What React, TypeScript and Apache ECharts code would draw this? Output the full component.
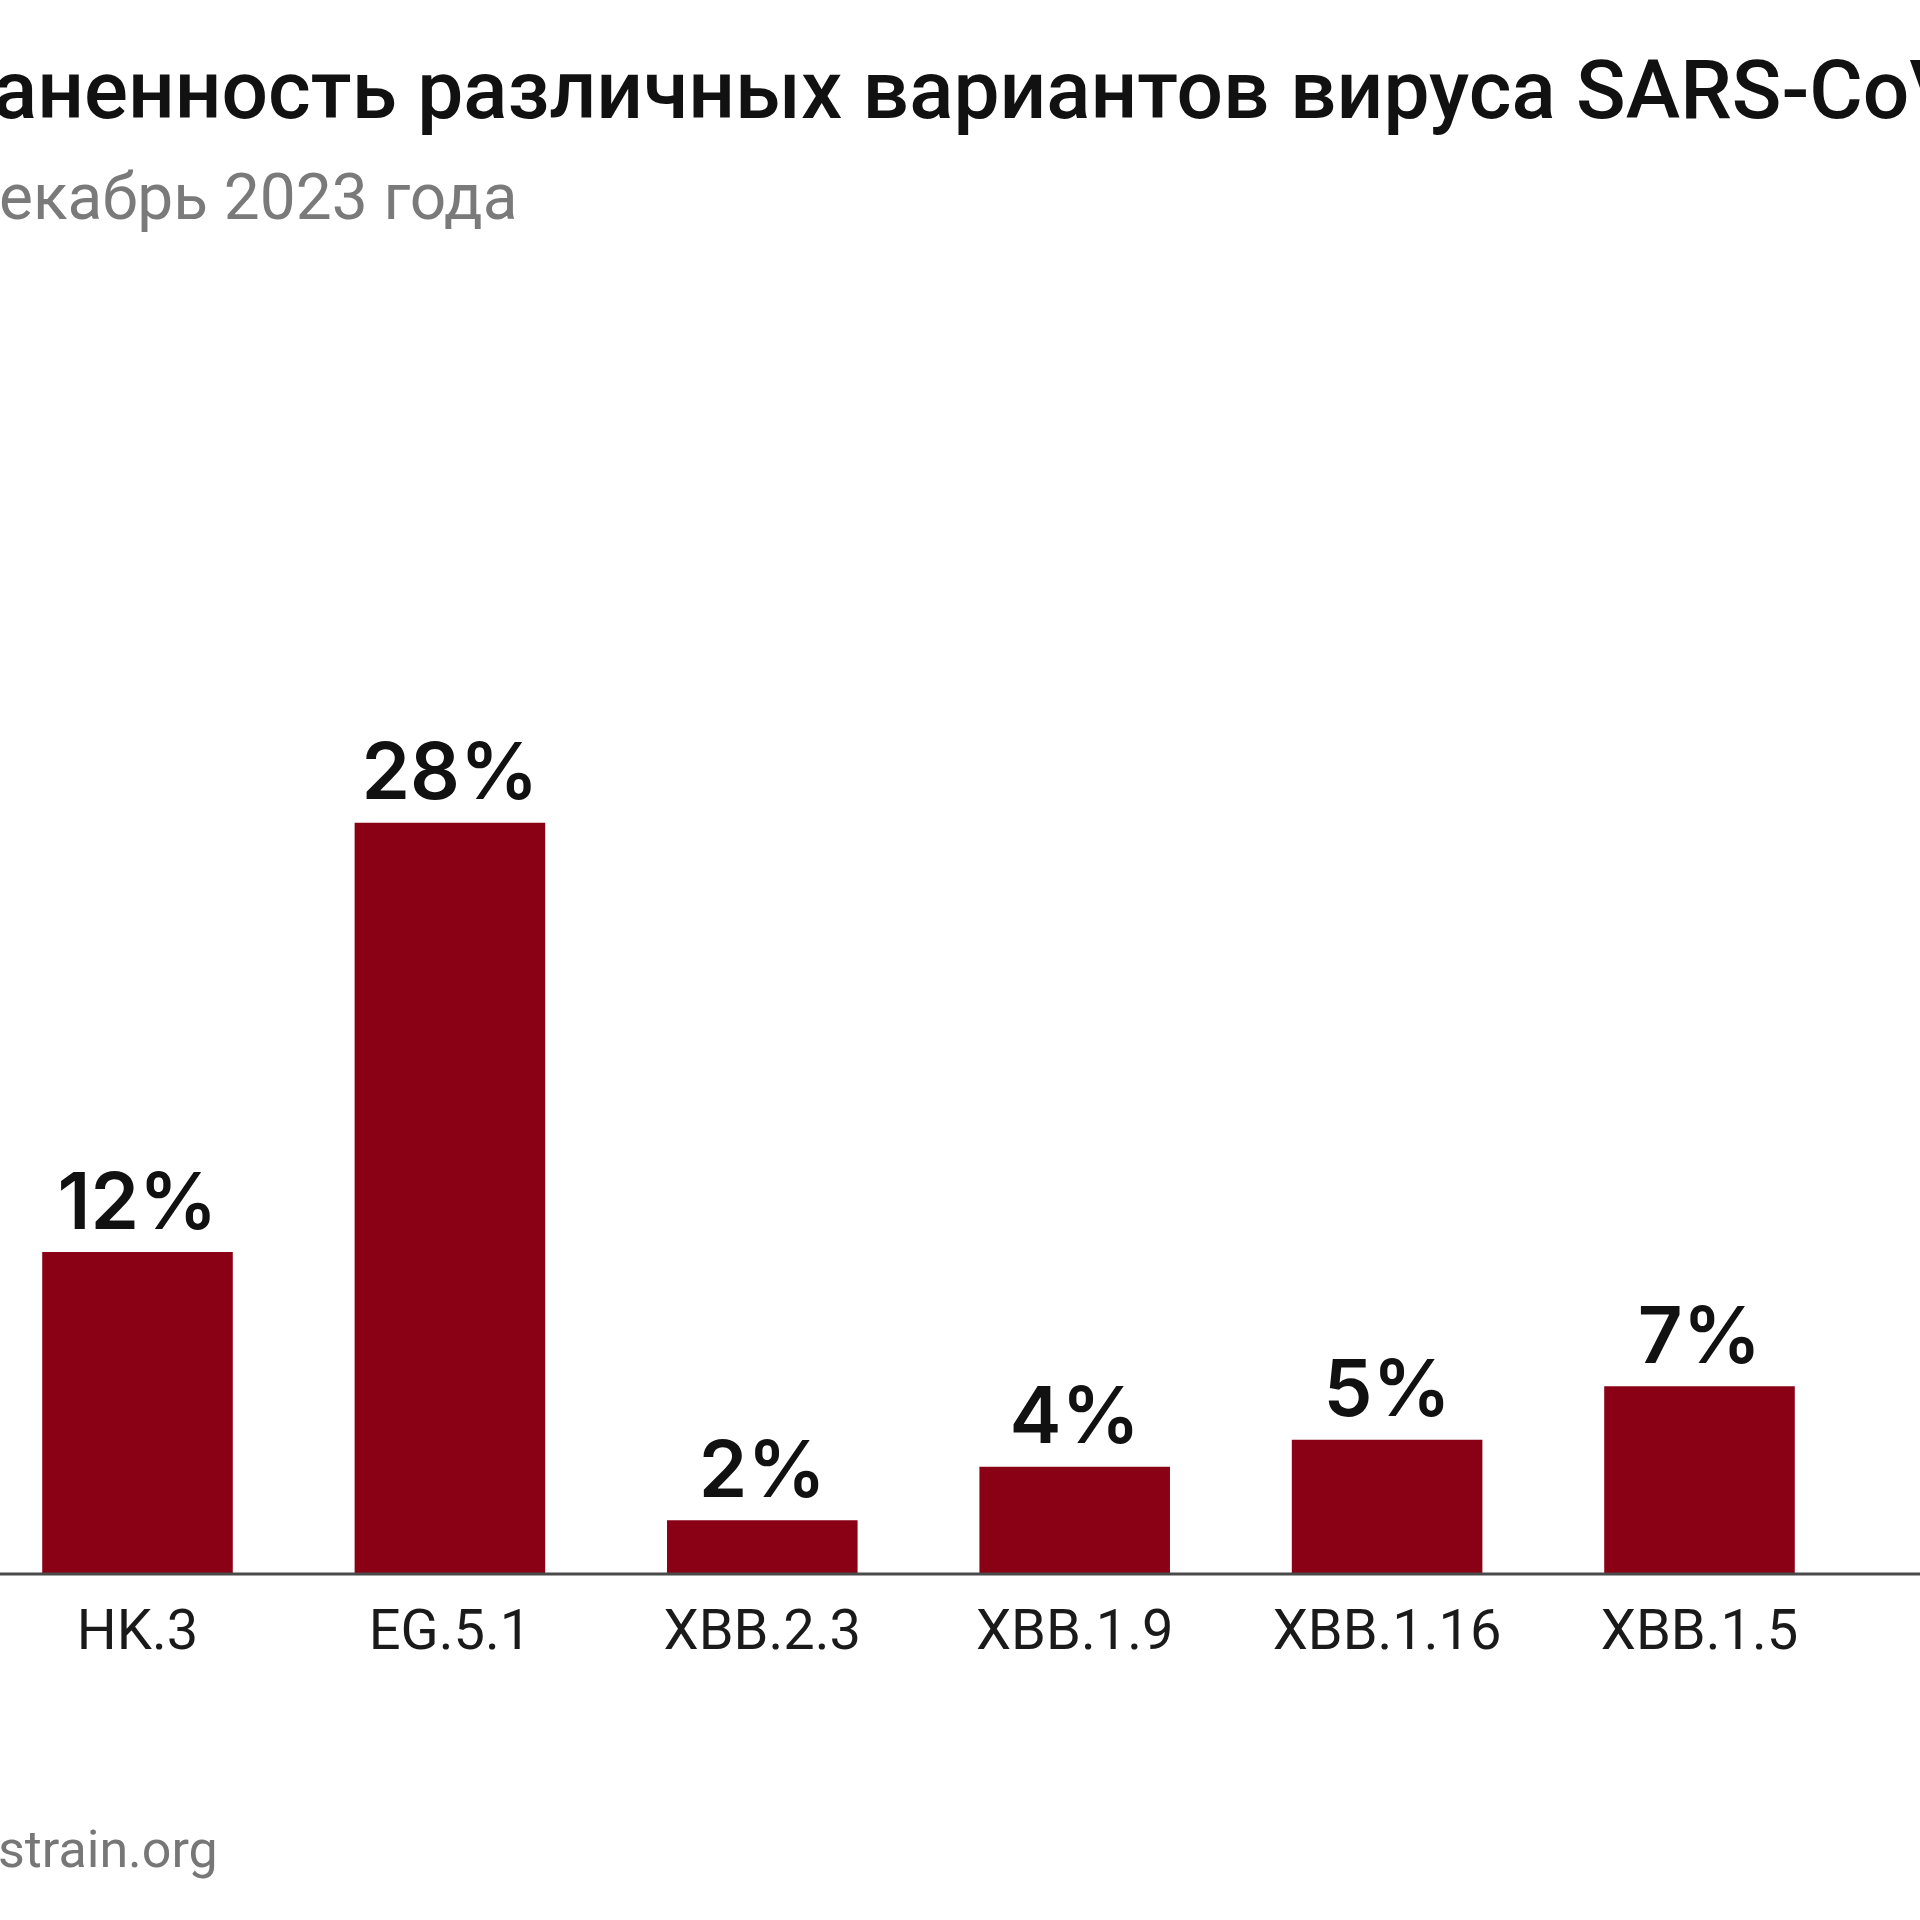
import React, { useEffect, useRef } from "react";
import * as echarts from "echarts";

const categories = ["HK.3", "EG.5.1", "XBB.2.3", "XBB.1.9", "XBB.1.16", "XBB.1.5"];
const shares = [12, 28, 2, 4, 5, 7];
const titleText = "Распространенность различных вариантов вируса SARS-CoV-2";
const titleHidden = "Распростр";
const subtitleText = "Декабрь 2023 года";
const subtitleHidden = "Д";
const sourceText = "Источник: nextstrain.org";
const sourceHidden = "Источник: next";

const FONT = "Roboto, 'Noto Sans', sans-serif";
const OFF = 60;

function measure(text: string, font: string): number {
  const c = document.createElement("canvas");
  const ctx = c.getContext("2d");
  if (!ctx) return 0;
  ctx.font = font;
  return ctx.measureText(text).width;
}

export default function App() {
  const ref = useRef<HTMLDivElement>(null);
  useEffect(() => {
    if (!ref.current) return;
    const chart = echarts.init(ref.current, null, { renderer: "svg" });
    const titleX = OFF + 13 - 20 - measure(titleHidden, `500 82px Roboto`);
    const subX = OFF - 1 - measure(subtitleHidden, `400 64px Roboto`);
    const srcX = OFF - 2 - measure(sourceHidden, `400 52px Roboto`);
    chart.setOption({
      animation: false,
      backgroundColor: "#ffffff",
      grid: { left: OFF - 18.7, width: 1874.4, top: 769, bottom: 346, containLabel: false },
      xAxis: {
        type: "category",
        data: categories,
        axisLine: { show: false },
        axisTick: { show: false },
        axisLabel: { fontSize: 56, color: "#1a1a1a", fontFamily: FONT, margin: 28, interval: 0 },
      },
      yAxis: { type: "value", min: 0, max: 30, show: false, splitLine: { show: false } },
      series: [
        {
          type: "bar",
          data: shares,
          barCategoryGap: "39%",
          itemStyle: { color: "#8a0015" },
          label: {
            show: true,
            position: "top",
            distance: 13,
            formatter: "{c}%",
            fontSize: 78,
            fontWeight: 600,
            color: "#111111",
            fontFamily: "Inter, Roboto, sans-serif",
          },
        },
      ],
    });
    const y0 = chart.convertToPixel({ yAxisIndex: 0 }, 0) as number;
    chart.setOption({
      graphic: [
        {
          type: "text",
          x: titleX,
          y: 90,
          style: {
            text: titleText,
            fontSize: 82,
            fontWeight: 500,
            fontFamily: FONT,
            fill: "#111111",
            verticalAlign: "middle",
            align: "left",
          },
        },
        {
          type: "text",
          x: subX,
          y: 197,
          style: {
            text: subtitleText,
            fontSize: 64,
            fontFamily: FONT,
            fill: "#7a7a7a",
            verticalAlign: "middle",
            align: "left",
          },
        },
        {
          type: "text",
          x: srcX,
          y: 1849,
          style: {
            text: sourceText,
            fontSize: 52,
            fontFamily: FONT,
            fill: "#777777",
            verticalAlign: "middle",
            align: "left",
          },
        },
        {
          type: "line",
          shape: { x1: 0, y1: y0, x2: 1920 + 2 * OFF, y2: y0 },
          style: { stroke: "#4a4a4a", lineWidth: 3 },
          z: 10,
        },
      ],
    });
    return () => chart.dispose();
  }, []);
  return (
    <div style={{ position: "absolute", left: 0, top: 0, width: 1920, height: 1920, overflow: "hidden" }}>
      <div
        ref={ref}
        style={{ position: "absolute", left: -OFF, top: 0, width: 1920 + 2 * OFF, height: 1920 }}
      />
    </div>
  );
}
